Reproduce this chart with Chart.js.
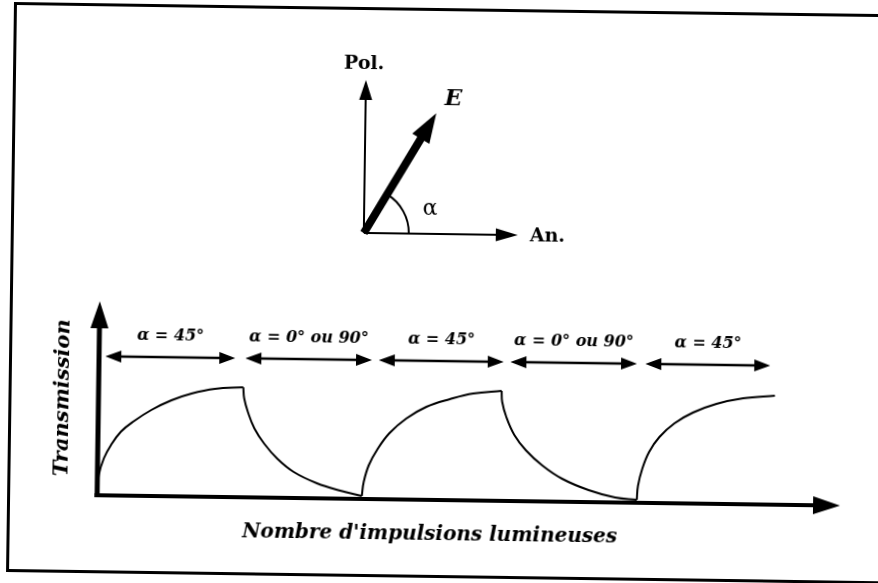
<!DOCTYPE html>
<html>
<head>
<meta charset="utf-8">
<script src="https://cdn.jsdelivr.net/npm/chart.js@4.4.1/dist/chart.umd.min.js"></script>
<style>
  html, body { margin: 0; padding: 0; background: #fff; overflow: hidden; }
  /* the scan is tilted a little, so the whole sheet is turned the same way */
  #page { position: relative; width: 878px; height: 583px; transform: rotate(0.8deg); transform-origin: 439px 291.5px; }
  #frame { position: absolute; left: 10px; top: 8px; width: 900px; height: 570px; border: 3px solid #000; box-sizing: border-box; }
  canvas { position: absolute; left: 0; top: 0; }
</style>
</head>
<body>
<div id="page">
  <div id="frame"></div>
  <canvas id="vector" width="878" height="583"></canvas>
  <canvas id="transmission" width="878" height="583"></canvas>
</div>
<script>
// --- data (x: number of pulses, y: transmission, arbitrary units) ---
// alpha = 45° : transmission builds up
const rise1X = [0, 0.13, 0.62, 1.29, 2.29, 3.62, 5.28, 7.27, 9.26, 11.58, 14.41];
const rise1Y = [0, 0.20, 0.37, 0.50, 0.64, 0.75, 0.86, 0.96, 1.03, 1.08, 1.10];
// alpha = 0° ou 90° : transmission is erased
const fall1X = [14.41, 14.51, 14.91, 15.57, 16.56, 17.90, 19.55, 21.88, 24.20, 26.36];
const fall1Y = [1.10, 0.99, 0.85, 0.69, 0.54, 0.39, 0.26, 0.15, 0.08, 0.03];
const rise2X = [26.36, 26.53, 27.02, 27.86, 29.01, 30.68, 32.67, 34.99, 37.32, 40.14];
const rise2Y = [0.03, 0.17, 0.34, 0.50, 0.66, 0.81, 0.93, 1.01, 1.07, 1.10];
const fall2X = [40.14, 40.21, 40.64, 41.47, 42.63, 44.29, 46.28, 48.94, 51.59, 53.75];
const fall2Y = [1.10, 0.99, 0.84, 0.66, 0.51, 0.36, 0.23, 0.12, 0.05, 0.03];
const rise3X = [53.75, 53.85, 54.25, 54.91, 55.91, 57.40, 59.23, 61.55, 64.21, 67.36];
const rise3Y = [0.03, 0.17, 0.34, 0.51, 0.66, 0.80, 0.91, 1.00, 1.06, 1.09];

// the double arrows above the curves
const spanStart = [0.62, 14.57, 27.86, 40.97, 54.41];
const spanEnd = [13.57, 27.19, 40.31, 53.59, 66.86];
const spanLabels = ['α = 45°', 'α = 0° ou 90°', 'α = 45°', 'α = 0° ou 90°', 'α = 45°'];
const spanLevel = 1.39;
const labelLevel = 1.60;

// the little polariser / analyser sketch (unit = length of the axes)
const vecNames = ['Pol.', 'An.', 'E'];
const vecX = [0, 1, 0.46];
const vecY = [1, 0, 0.79];

const ink = '#000';
const serif = "'DejaVu Serif', 'Liberation Serif', serif";

const toPoints = (xs, ys) => xs.map((x, i) => ({ x: x, y: ys[i] }));

// arrow heads at the ends of a dataset (head: 'end' or 'both')
function headsOf(ds, pts) {
  const n = pts.length;
  const make = (tip, from) => {
    const dx = tip.x - from.x, dy = tip.y - from.y, d = Math.hypot(dx, dy);
    return { x: tip.x, y: tip.y, ux: dx / d, uy: dy / d, len: ds.headLength, half: ds.headWidth / 2 };
  };
  const list = [];
  if (ds.head === 'end' || ds.head === 'both') list.push(make(pts[n - 1], pts[0]));
  if (ds.head === 'both') list.push(make(pts[0], pts[n - 1]));
  return list;
}

function drawHead(ctx, h) {
  const bx = h.x - h.ux * h.len, by = h.y - h.uy * h.len;
  ctx.beginPath();
  ctx.moveTo(h.x, h.y);
  ctx.lineTo(bx - h.uy * h.half, by + h.ux * h.half);
  ctx.lineTo(bx + h.uy * h.half, by - h.ux * h.half);
  ctx.closePath();
  ctx.fill();
}

const arrowHeads = {
  id: 'arrowHeads',
  beforeDatasetDraw(chart, args) {
    const ds = chart.data.datasets[args.index];
    if (!ds.head) return;
    const ctx = chart.ctx;
    ctx.save();
    // keep the shaft from poking through the tip
    ctx.beginPath();
    ctx.rect(0, 0, chart.width, chart.height);
    headsOf(ds, args.meta.data).forEach(h => {
      const bx = h.x - h.ux * (h.len - 1), by = h.y - h.uy * (h.len - 1);
      const px = -h.uy * 20, py = h.ux * 20;
      const fx = h.ux * (h.len + 20), fy = h.uy * (h.len + 20);
      ctx.moveTo(bx + px, by + py);
      ctx.lineTo(bx + px + fx, by + py + fy);
      ctx.lineTo(bx - px + fx, by - py + fy);
      ctx.lineTo(bx - px, by - py);
      ctx.closePath();
    });
    ctx.clip('evenodd');
  },
  afterDatasetDraw(chart, args) {
    const ds = chart.data.datasets[args.index];
    if (!ds.head) return;
    const ctx = chart.ctx;
    ctx.restore();
    ctx.save();
    ctx.fillStyle = ds.borderColor;
    headsOf(ds, args.meta.data).forEach(h => drawHead(ctx, h));
    ctx.restore();
  }
};

// axes of the transmission plot, with their arrows and titles
const plotFurniture = {
  id: 'plotFurniture',
  afterDatasetsDraw(chart) {
    const { ctx, scales: { x, y } } = chart;
    const x0 = x.getPixelForValue(0), y0 = y.getPixelForValue(0);
    const xTip = x.getPixelForValue(x.max), yTip = y.getPixelForValue(y.max);
    ctx.save();
    ctx.strokeStyle = ink;
    ctx.fillStyle = ink;
    ctx.lineWidth = 5;
    ctx.beginPath(); ctx.moveTo(x0, y0 + 2); ctx.lineTo(x0, yTip + 22); ctx.stroke();
    ctx.lineWidth = 4;
    ctx.beginPath(); ctx.moveTo(x0 - 2.5, y0); ctx.lineTo(xTip - 22, y0); ctx.stroke();
    drawHead(ctx, { x: x0, y: yTip, ux: 0, uy: -1, len: 27, half: 9 });
    drawHead(ctx, { x: xTip, y: y0, ux: 1, uy: 0, len: 27, half: 9 });

    ctx.textAlign = 'center';
    ctx.textBaseline = 'middle';
    ctx.font = 'italic bold 16px ' + serif;
    spanLabels.forEach((t, i) => {
      ctx.fillText(t, x.getPixelForValue((spanStart[i] + spanEnd[i]) / 2), y.getPixelForValue(labelLevel));
    });

    ctx.font = 'italic bold 20px ' + serif;
    ctx.fillText("Nombre d'impulsions lumineuses", 433, 535);
    ctx.translate(65, 403);
    ctx.rotate(-Math.PI / 2);
    ctx.font = 'italic bold 21px ' + serif;
    ctx.fillText('Transmission', 0, 0);
    ctx.restore();
  }
};

// angle mark and names of the sketch
const sketchFurniture = {
  id: 'sketchFurniture',
  afterDatasetsDraw(chart) {
    const { ctx, scales: { x, y } } = chart;
    const ox = x.getPixelForValue(0), oy = y.getPixelForValue(0);
    const tips = vecX.map((v, i) => ({ x: x.getPixelForValue(v), y: y.getPixelForValue(vecY[i]) }));
    const ang = Math.atan2(tips[2].y - oy, tips[2].x - ox);
    ctx.save();
    ctx.strokeStyle = ink;
    ctx.fillStyle = ink;
    ctx.lineWidth = 2;
    ctx.beginPath();
    ctx.arc(ox, oy, 45, ang, 0);
    ctx.stroke();

    ctx.textAlign = 'center';
    ctx.textBaseline = 'middle';
    ctx.font = 'bold 19px ' + serif;
    ctx.fillText(vecNames[0], tips[0].x - 2, tips[0].y - 16);
    ctx.textAlign = 'left';
    ctx.fillText(vecNames[1], tips[1].x + 12, tips[1].y + 1);
    ctx.textAlign = 'center';
    ctx.font = 'italic bold 23px ' + serif;
    ctx.fillText(vecNames[2], tips[2].x + 17, tips[2].y - 14);
    ctx.font = '22px ' + serif;
    ctx.fillText('α', ox + 66, oy - 25);
    ctx.restore();
  }
};

const quiet = {
  responsive: false,
  animation: false,
  events: [],
  plugins: { legend: { display: false }, tooltip: { enabled: false } }
};

const curve = (xs, ys) => ({
  data: toPoints(xs, ys),
  showLine: true,
  borderColor: ink,
  borderWidth: 2,
  pointRadius: 0,
  tension: 0.4,
  clip: false
});

const spans = spanStart.map((s, i) => ({
  data: [{ x: s, y: spanLevel }, { x: spanEnd[i], y: spanLevel }],
  showLine: true,
  borderColor: ink,
  borderWidth: 2.5,
  pointRadius: 0,
  clip: false,
  head: 'both',
  headLength: 16,
  headWidth: 12
}));

new Chart(document.getElementById('transmission'), {
  type: 'scatter',
  data: {
    datasets: [
      curve(rise1X, rise1Y),
      curve(fall1X, fall1Y),
      curve(rise2X, rise2Y),
      curve(fall2X, fall2Y),
      curve(rise3X, rise3Y),
      ...spans
    ]
  },
  options: {
    ...quiet,
    layout: { padding: { left: 100, right: 35, top: 306, bottom: 83 } },
    scales: {
      x: { type: 'linear', min: 0, max: 74, display: false },
      y: { type: 'linear', min: 0, max: 1.94, display: false }
    }
  },
  plugins: [arrowHeads, plotFurniture]
});

const vectorWidths = [2, 2, 8];
const headLengths = [20, 22, 30];
const headWidths = [13, 13, 20];

new Chart(document.getElementById('vector'), {
  type: 'scatter',
  data: {
    datasets: vecNames.map((name, i) => ({
      label: name,
      data: [{ x: 0, y: 0 }, { x: vecX[i], y: vecY[i] }],
      showLine: true,
      borderColor: ink,
      borderWidth: vectorWidths[i],
      borderCapStyle: 'butt',
      pointRadius: 0,
      clip: false,
      head: 'end',
      headLength: headLengths[i],
      headWidth: headWidths[i]
    }))
  },
  options: {
    ...quiet,
    layout: { padding: { left: 363, right: 361, top: 81, bottom: 349 } },
    scales: {
      x: { type: 'linear', min: 0, max: 1, display: false },
      y: { type: 'linear', min: 0, max: 1, display: false }
    }
  },
  plugins: [arrowHeads, sketchFurniture]
});
</script>
</body>
</html>
